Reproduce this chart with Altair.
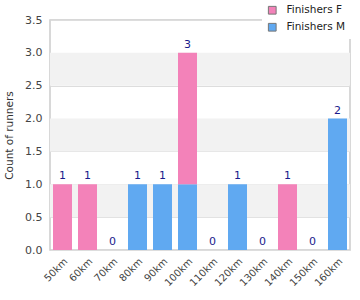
import altair as alt
import pandas as pd

categories = ["50km", "60km", "70km", "80km", "90km", "100km", "110km", "120km", "130km", "140km", "150km", "160km"]
finishers_f = [1, 1, 0, 0, 0, 2, 0, 0, 0, 1, 0, 0]
finishers_m = [0, 0, 0, 1, 1, 1, 0, 1, 0, 0, 0, 2]
band_lo = [0.5, 1.5, 2.5]
band_hi = [1.0, 2.0, 3.0]
y_ticks = [0, 0.5, 1, 1.5, 2, 2.5, 3, 3.5]

rows = []
for c, f, m in zip(categories, finishers_f, finishers_m):
    rows.append({"dist": c, "series": "Finishers M", "count": m, "ord": 0})
    rows.append({"dist": c, "series": "Finishers F", "count": f, "ord": 1})
df = pd.DataFrame(rows)
tot = pd.DataFrame({"dist": categories, "total": [f + m for f, m in zip(finishers_f, finishers_m)]})
bands = pd.DataFrame({"lo": band_lo, "hi": band_hi})

FONT = "DejaVu Sans"
yscale = alt.Scale(domain=[0, 3.5], nice=False)
xscale = alt.Scale(domain=categories, paddingInner=0.24, paddingOuter=0.12)

yaxis = alt.Axis(title="Count of runners", values=y_ticks, format=".1f", labelOverlap=False,
                 grid=True, gridColor="#dddddd", ticks=False, domain=False,
                 labelColor="#444", labelFont=FONT, labelFontSize=11, labelPadding=8,
                 titleColor="#333", titleFont=FONT, titleFontSize=10.5, titleFontWeight="normal",
                 titlePadding=10)
xaxis = alt.Axis(title=None, labelAngle=-45, ticks=False, domain=False, labelOverlap=False,
                 labelColor="#444", labelFont=FONT, labelFontSize=10, labelPadding=6)

band_layer = alt.Chart(bands).mark_rect(color="#f2f2f2").encode(
    y=alt.Y("lo:Q", scale=yscale, axis=yaxis),
    y2="hi:Q",
)

bars = alt.Chart(df).mark_bar().encode(
    x=alt.X("dist:N", scale=xscale, sort=categories, axis=xaxis),
    y=alt.Y("sum(count):Q", scale=yscale, axis=yaxis),
    color=alt.Color("series:N",
                    scale=alt.Scale(domain=["Finishers F", "Finishers M"], range=["#f382b9", "#60a9f1"]),
                    legend=alt.Legend(title=None, orient="none", legendX=212, legendY=-20,
                                      fillColor="white", padding=5, symbolType="square",
                                      symbolSize=60, symbolStrokeColor="#777", symbolStrokeWidth=1,
                                      labelFont=FONT, labelFontSize=10.5, labelColor="#222",
                                      rowPadding=4, labelOffset=9)),
    order=alt.Order("ord:Q"),
)

labels = alt.Chart(tot).mark_text(dy=-8, color="#1a1a8c", font=FONT, fontSize=11).encode(
    x=alt.X("dist:N", scale=xscale, sort=categories, axis=xaxis),
    y=alt.Y("total:Q", scale=yscale, axis=yaxis),
    text="total:Q",
)

chart = alt.layer(band_layer, bars, labels).properties(
    width=300, height=230,
    autosize=alt.AutoSizeParams(type="none"),
    padding={"left": 50, "top": 20, "right": 10, "bottom": 50},
    background="white",
).configure_view(stroke="#cccccc", strokeWidth=1.5)

chart.save("out.html", embed_options={"renderer": "svg", "actions": False})
